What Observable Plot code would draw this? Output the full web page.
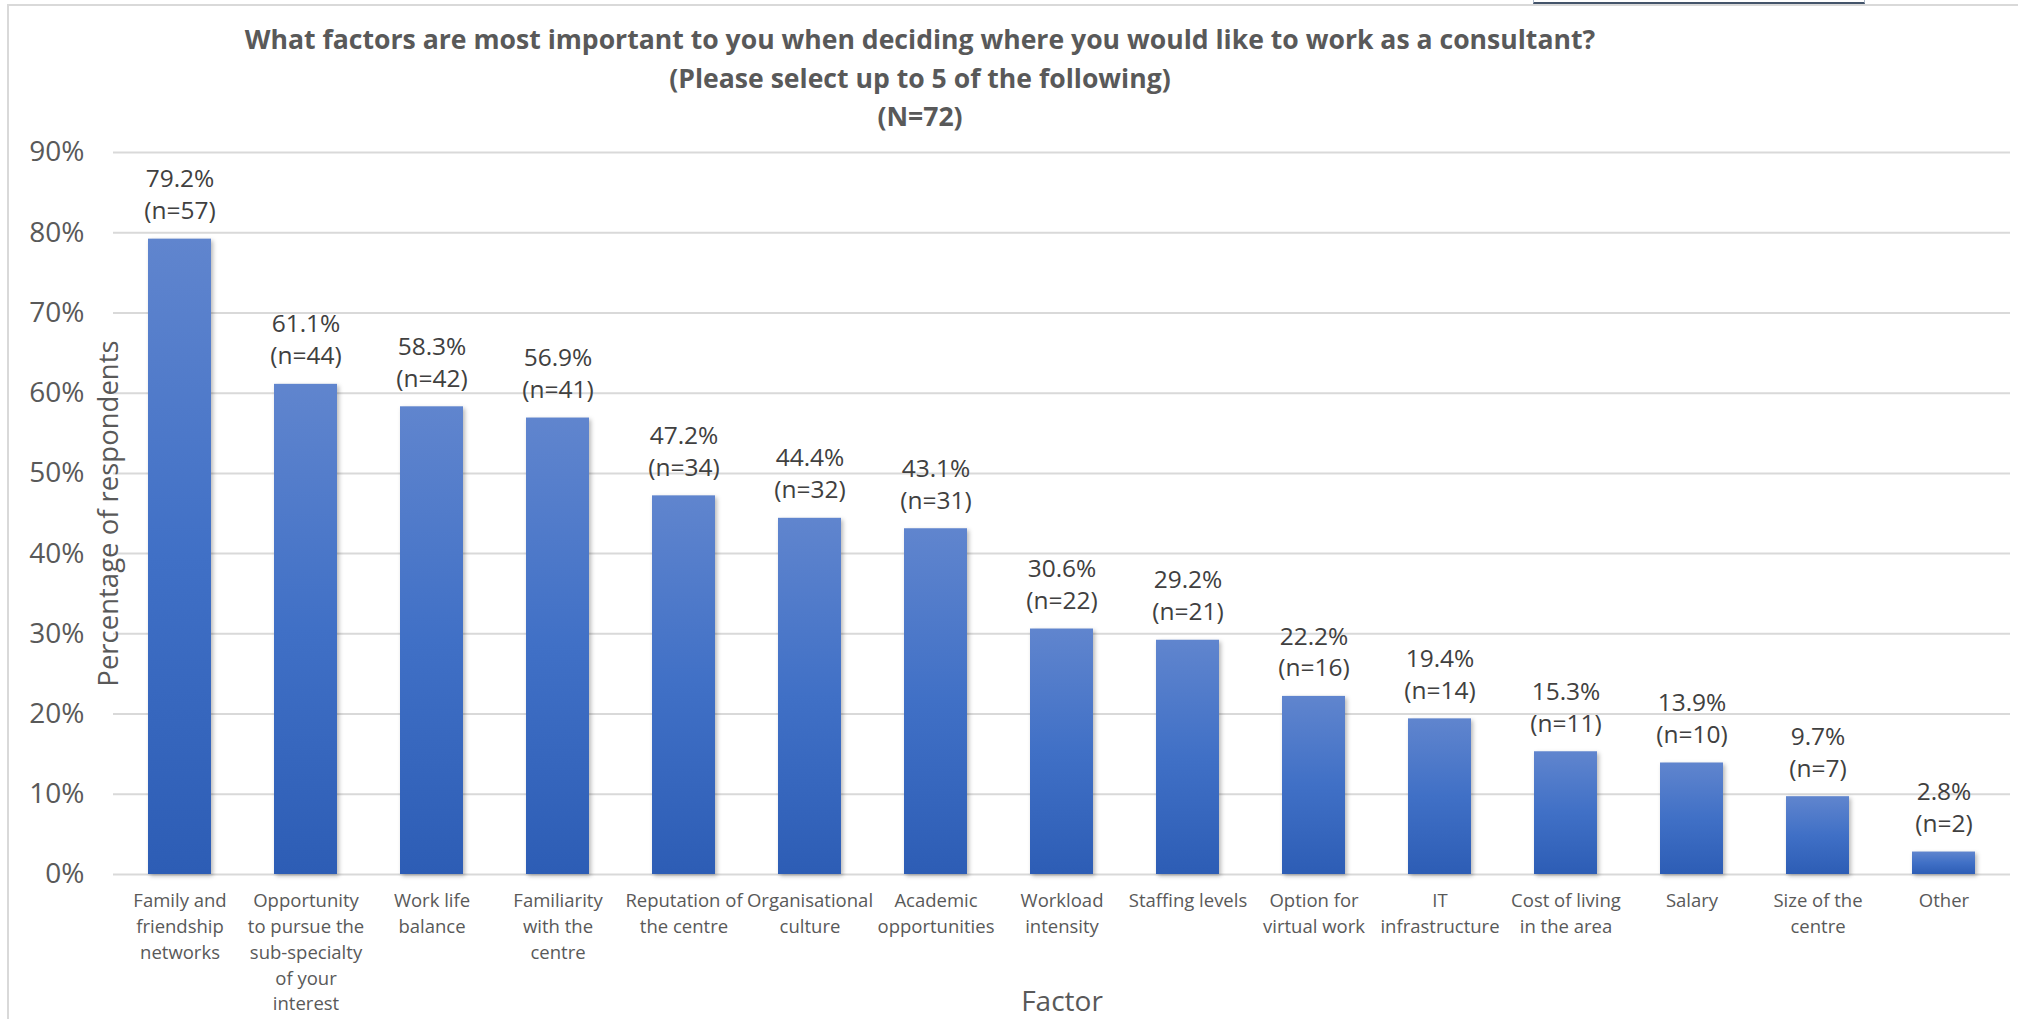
<!DOCTYPE html>
<html>
<head>
<meta charset="utf-8">
<script src="https://cdn.jsdelivr.net/npm/d3@7"></script>
<script src="https://cdn.jsdelivr.net/npm/@observablehq/plot@0.6"></script>
<style>
  html, body { margin: 0; padding: 0; background: #fff; }
  #wrap { position: relative; width: 2018px; height: 1019px; overflow: hidden; font-family: "Open Sans", sans-serif; }
  #frame { position: absolute; left: 7px; top: 4px; width: 2200px; height: 1200px; border-left: 2px solid #d9d9d9; border-top: 2px solid #d9d9d9; }
  #tab { position: absolute; left: 1533px; top: -8px; width: 330px; height: 9px; border: 1px solid #adb9ca; border-bottom: 2px solid #44546a; background: #fff; }
  #title { position: relative; width: 1840px; height: 135px; box-sizing: border-box; padding-top: 20px; text-align: center; color: #595959; font-weight: 700; line-height: 38.6px; }
  #chart { position: relative; }
  #chart g[aria-label="bar"] rect { filter: drop-shadow(2px 2px 2px rgba(0,0,0,0.28)); }
</style>
</head>
<body>
<div id="wrap">
  <div id="frame"></div>
  <div id="tab"></div>
  <div id="title">
    <div class="tl">What factors are most important to you when deciding where you would like to work as a consultant?</div>
    <div class="tl">(Please select up to 5 of the following)</div>
    <div class="tl">(N=72)</div>
  </div>
  <div id="chart"></div>
</div>
<script>
// ---- data ----
const categories = [
  "Family and friendship networks",
  "Opportunity to pursue the sub-specialty of your interest",
  "Work life balance",
  "Familiarity with the centre",
  "Reputation of the centre",
  "Organisational culture",
  "Academic opportunities",
  "Workload intensity",
  "Staffing levels",
  "Option for virtual work",
  "IT infrastructure",
  "Cost of living in the area",
  "Salary",
  "Size of the centre",
  "Other"
];
const tickLabels = [
  "Family and\nfriendship\nnetworks",
  "Opportunity\nto pursue the\nsub-specialty\nof your\ninterest",
  "Work life\nbalance",
  "Familiarity\nwith the\ncentre",
  "Reputation of\nthe centre",
  "Organisational\nculture",
  "Academic\nopportunities",
  "Workload\nintensity",
  "Staffing levels",
  "Option for\nvirtual work",
  "IT\ninfrastructure",
  "Cost of living\nin the area",
  "Salary",
  "Size of the\ncentre",
  "Other"
];
const percentages = [79.2, 61.1, 58.3, 56.9, 47.2, 44.4, 43.1, 30.6, 29.2, 22.2, 19.4, 15.3, 13.9, 9.7, 2.8];
const counts = [57, 44, 42, 41, 34, 32, 31, 22, 21, 16, 14, 11, 10, 7, 2];
const yTicks = [0, 10, 20, 30, 40, 50, 60, 70, 80, 90];
const yTitle = "Percentage of respondents";
const xTitle = "Factor";

const data = categories.map((c, i) => ({factor: c, pct: percentages[i], n: counts[i]}));

// ---- fit title font to reference width ----
(function () {
  const ctx = document.createElement("canvas").getContext("2d");
  ctx.font = '700 100px "Open Sans"';
  const w = ctx.measureText(document.querySelector("#title .tl").textContent).width;
  const fs = Math.min(30, 100 * 1351 / w);
  document.getElementById("title").style.fontSize = fs.toFixed(2) + "px";
})();

const gradient = () => {
  const defs = d3.create("svg:defs");
  const g = defs.append("linearGradient").attr("id", "barGrad").attr("x1", 0).attr("y1", 0).attr("x2", 0).attr("y2", 1);
  g.append("stop").attr("offset", "0%").attr("stop-color", "#6085ce");
  g.append("stop").attr("offset", "50%").attr("stop-color", "#4070c6");
  g.append("stop").attr("offset", "100%").attr("stop-color", "#2d5db5");
  return defs.node();
};

const chart = Plot.plot({
  width: 2018,
  height: 884,
  marginLeft: 113,
  marginRight: 8,
  marginTop: 17,
  marginBottom: 145,
  style: {fontFamily: "Open Sans, sans-serif", background: "transparent", overflow: "visible"},
  x: {type: "band", domain: categories, paddingInner: 0.5, paddingOuter: 0.25},
  y: {domain: [0, 90]},
  marks: [
    gradient,
    Plot.ruleY(yTicks, {stroke: "#d9d9d9", strokeWidth: 2}),
    Plot.barY(data, {x: "factor", y: "pct", fill: "url(#barGrad)"}),
    Plot.axisY({ticks: yTicks, tickFormat: d => d + "%", tickSize: 0, tickPadding: 29, fontSize: 28, color: "#595959", label: null}),
    Plot.axisX({tickFormat: d => tickLabels[categories.indexOf(d)], tickSize: 0, tickPadding: 14, fontSize: 18.5, lineHeight: 1.4, color: "#595959", label: null}),
    Plot.text(data, {x: "factor", y: "pct", text: d => `${d.pct.toFixed(1)}%\n(n=${d.n})`, lineAnchor: "bottom", dy: -20, fontSize: 24.5, lineHeight: 1.3, fill: "#404040"}),
    Plot.text([yTitle], {frameAnchor: "left", textAnchor: "middle", rotate: -90, dx: -4, fontSize: 27.5, fill: "#595959"}),
    Plot.text([xTitle], {frameAnchor: "bottom", dy: 136, fontSize: 28, fill: "#595959"})
  ]
});
document.getElementById("chart").appendChild(chart);
</script>
</body>
</html>
